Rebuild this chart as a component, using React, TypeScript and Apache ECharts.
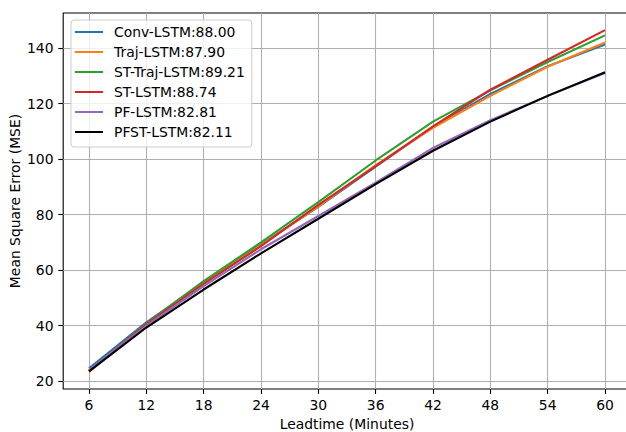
import React, { useEffect, useRef } from "react";
import * as echarts from "echarts";

const leadtimes = [6, 12, 18, 24, 30, 36, 42, 48, 54, 60];
const xTicks = [6, 12, 18, 24, 30, 36, 42, 48, 54, 60];
const yTicks = [20, 40, 60, 80, 100, 120, 140];

const seriesNames = [
  "Conv-LSTM:88.00",
  "Traj-LSTM:87.90",
  "ST-Traj-LSTM:89.21",
  "ST-LSTM:88.74",
  "PF-LSTM:82.81",
  "PFST-LSTM:82.11",
];
const seriesColors = ["#1f77b4", "#ff7f0e", "#2ca02c", "#d62728", "#9467bd", "#000000"];

const convLSTM = [24.6, 41.2, 55.5, 69.3, 82.8, 97.3, 111.6, 123.5, 133.5, 141.3];
const trajLSTM = [23.3, 40.6, 55.2, 69.0, 83.0, 97.8, 111.3, 122.8, 133.3, 142.0];
const stTrajLSTM = [23.8, 40.8, 56.0, 70.0, 84.5, 99.5, 113.5, 124.8, 135.0, 144.6];
const stLSTM = [23.8, 40.5, 55.0, 68.6, 83.5, 97.5, 111.8, 125.0, 135.8, 146.5];
const pfLSTM = [24.0, 40.0, 54.2, 67.5, 79.5, 91.5, 104.0, 114.0, 122.8, 131.0];
const pfstLSTM = [23.5, 39.3, 53.0, 66.0, 78.5, 91.0, 103.0, 113.5, 122.8, 131.3];

const allValues = [convLSTM, trajLSTM, stTrajLSTM, stLSTM, pfLSTM, pfstLSTM];

const FONT = "DejaVu Sans";
const FS = 13.9;

export default function App() {
  const ref = useRef<HTMLDivElement>(null);
  useEffect(() => {
    document.body.style.margin = "0";
    const chart = echarts.init(ref.current!, undefined, { renderer: "svg" });
    const flat = allValues.flat();
    const yMinD = Math.min(...flat);
    const yMaxD = Math.max(...flat);
    const yPad = (yMaxD - yMinD) * 0.05;
    const xMinD = Math.min(...leadtimes);
    const xMaxD = Math.max(...leadtimes);
    const xPad = (xMaxD - xMinD) * 0.05;

    chart.setOption({
      animation: false,
      backgroundColor: "#ffffff",
      textStyle: { fontFamily: FONT },
      grid: {
        left: 63.2,
        top: 13,
        width: 567.6,
        height: 376,
        containLabel: false,
        outerBoundsMode: "none",
        show: true,
        borderColor: "#000000",
        borderWidth: 1.1,
        backgroundColor: "transparent",
      },
      legend: {
        orient: "vertical",
        left: 71,
        top: 20,
        icon: "rect",
        itemWidth: 28,
        itemHeight: 2,
        itemGap: 6,
        padding: [5, 7, 8, 4],
        backgroundColor: "rgba(255,255,255,0.8)",
        borderColor: "#cccccc",
        borderWidth: 1,
        borderRadius: 3,
        textStyle: {
          fontFamily: FONT,
          fontSize: FS,
          color: "#000000",
          lineHeight: 14,
          padding: [0, 0, 0, 6],
        },
        data: seriesNames,
      },
      xAxis: {
        type: "value",
        min: xMinD - xPad,
        max: xMaxD + xPad,
        name: "Leadtime (Minutes)",
        nameLocation: "middle",
        nameGap: 28,
        nameMoveOverlap: false,
        nameTextStyle: { fontFamily: FONT, fontSize: FS, color: "#000000" },
        axisLine: { show: false },
        axisTick: {
          show: true,
          length: 4.9,
          lineStyle: { color: "#000000", width: 1.1 },
          customValues: xTicks,
        },
        axisLabel: {
          fontFamily: FONT,
          fontSize: FS,
          color: "#000000",
          margin: 9,
          customValues: xTicks,
        },
        splitLine: { show: true, lineStyle: { color: "#b0b0b0", width: 1.1 } },
      },
      yAxis: {
        type: "value",
        min: yMinD - yPad,
        max: yMaxD + yPad,
        name: "Mean Square Error (MSE)",
        nameLocation: "middle",
        nameGap: 41,
        nameMoveOverlap: false,
        nameTextStyle: { fontFamily: FONT, fontSize: FS, color: "#000000" },
        axisLine: { show: false },
        axisTick: {
          show: true,
          length: 4.9,
          lineStyle: { color: "#000000", width: 1.1 },
          customValues: yTicks,
        },
        axisLabel: {
          fontFamily: FONT,
          fontSize: FS,
          color: "#000000",
          margin: 9.7,
          customValues: yTicks,
        },
        splitLine: { show: true, lineStyle: { color: "#b0b0b0", width: 1.1 } },
      },
      series: allValues.map((vals, i) => ({
        name: seriesNames[i],
        type: "line",
        symbol: "none",
        showSymbol: false,
        color: seriesColors[i],
        lineStyle: { color: seriesColors[i], width: 2.1 },
        data: leadtimes.map((t, j) => [t, vals[j]]),
      })),
    });
    return () => chart.dispose();
  }, []);
  return (
    <div
      ref={ref}
      style={{ position: "fixed", left: 0, top: 0, width: 626, height: 432 }}
    />
  );
}
